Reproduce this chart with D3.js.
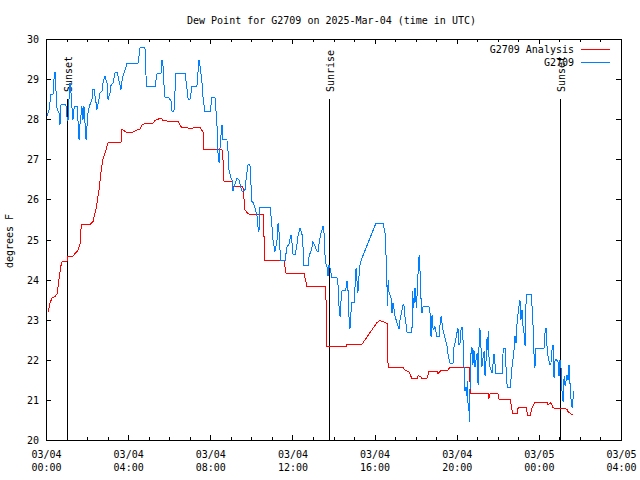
<!DOCTYPE html>
<html>
<head>
<meta charset="utf-8">
<script src="https://cdn.jsdelivr.net/npm/d3@7"></script>
<style>
  html, body { margin: 0; padding: 0; background: #fff; }
  svg { display: block; }
</style>
</head>
<body>
<div id="chart"></div>
<script>
// ---------- Data (hours after 2025-03-04 00:00 UTC, dew point in degrees F) ----------
const titleText = "Dew Point for G2709 on 2025-Mar-04 (time in UTC)";
const yAxisLabel = "degrees F";
const seriesNames = ["G2709 Analysis", "G2709"];
const seriesColors = ["#ff0000", "#0080ff"];

const analysisHours = [0.10,0.19,0.29,0.44,0.54,0.63,0.73,0.78,1.02,1.05,1.31,1.41,1.56,1.66,1.70,1.75,2.14,2.29,2.43,2.58,2.68,2.78,2.87,3.02,3.65,3.70,3.94,4.19,4.29,4.58,4.68,4.87,5.21,5.31,5.60,5.70,6.04,6.43,6.62,6.77,7.11,7.21,7.50,7.65,7.67,8.57,8.62,8.67,9.06,9.11,9.59,9.69,9.79,9.93,10.57,10.61,10.66,11.59,11.69,12.56,12.66,12.71,13.59,13.64,13.68,14.61,14.66,15.39,16.12,16.27,16.51,16.61,16.66,17.39,17.48,17.68,17.82,18.07,18.12,18.26,18.31,18.55,18.65,19.04,19.09,19.24,19.58,19.67,20.60,20.64,20.69,21.53,21.57,21.62,22.01,22.06,22.60,22.69,22.74,22.94,22.99,23.38,23.42,23.47,23.57,23.67,23.81,24.40,24.45,24.59,24.69,25.37,25.42,25.57,25.66];
const analysisValues = [23.19,23.40,23.54,23.58,23.64,24.00,24.35,24.44,24.44,24.58,24.58,24.65,24.73,24.90,25.26,25.37,25.37,25.45,25.74,26.24,26.70,27.03,27.15,27.41,27.41,27.74,27.67,27.67,27.70,27.76,27.86,27.90,27.90,27.97,28.03,27.97,27.94,27.94,27.78,27.80,27.76,27.80,27.80,27.67,27.24,27.24,26.99,26.45,26.45,26.31,26.31,25.74,25.67,25.62,25.62,25.16,24.47,24.47,24.16,24.16,23.95,23.83,23.83,23.46,22.32,22.32,22.39,22.39,22.93,22.98,22.93,22.90,21.80,21.80,21.74,21.70,21.53,21.53,21.60,21.58,21.53,21.53,21.71,21.71,21.66,21.74,21.74,21.82,21.82,21.50,21.15,21.15,21.03,21.15,21.15,21.02,21.02,20.76,20.66,20.66,20.80,20.80,20.70,20.61,20.61,20.80,20.94,20.94,20.88,20.93,20.80,20.77,20.71,20.65,20.63];

const obsHours = [0.05,0.15,0.24,0.34,0.39,0.44,0.49,0.54,0.63,0.68,0.73,0.97,1.02,1.07,1.12,1.17,1.22,1.27,1.31,1.36,1.41,1.51,1.56,1.61,1.66,1.75,1.80,1.85,1.95,2.00,2.05,2.14,2.24,2.29,2.34,2.44,2.48,2.58,2.63,2.73,2.78,2.87,2.97,3.02,3.12,3.17,3.26,3.36,3.46,3.56,3.65,3.70,3.75,3.85,3.94,4.48,4.58,4.82,4.89,5.31,5.41,5.60,5.65,5.70,5.75,5.80,5.99,6.09,6.14,6.23,6.33,6.77,6.87,6.92,7.01,7.11,7.35,7.40,7.45,7.50,7.60,7.65,7.74,7.99,8.08,8.23,8.28,8.33,8.38,8.43,8.50,8.57,8.62,8.81,8.86,8.91,9.01,9.06,9.11,9.16,9.30,9.40,9.50,9.55,9.69,9.76,9.84,9.93,9.98,10.03,10.10,10.18,10.28,10.32,10.37,10.40,10.42,10.91,10.96,11.01,11.05,11.15,11.25,11.30,11.35,11.40,11.44,11.64,11.69,11.74,11.83,11.93,11.98,12.03,12.13,12.22,12.27,12.37,12.47,12.52,12.56,12.76,12.81,12.95,13.00,13.10,13.20,13.25,13.30,13.39,13.49,13.54,13.59,13.64,13.68,13.73,13.78,13.85,13.93,14.17,14.22,14.27,14.32,14.37,14.42,14.59,14.66,14.71,14.76,14.80,14.85,14.90,15.00,15.05,15.10,15.14,15.19,15.24,15.29,15.39,16.07,16.41,16.51,16.56,16.61,16.63,16.66,16.70,16.80,16.85,16.90,16.95,17.00,17.09,17.19,17.24,17.39,17.43,17.48,17.58,17.82,17.85,17.90,17.95,17.97,18.04,18.12,18.17,18.21,18.26,18.31,18.36,18.65,18.70,18.75,18.80,18.84,18.89,18.94,19.04,19.14,19.19,19.24,19.29,19.33,19.43,19.53,19.58,19.67,19.82,19.87,19.92,20.01,20.06,20.11,20.16,20.21,20.26,20.31,20.36,20.40,20.45,20.50,20.53,20.55,20.60,20.62,20.65,20.69,20.74,20.79,20.84,20.89,20.99,21.04,21.09,21.13,21.18,21.23,21.28,21.33,21.38,21.43,21.48,21.52,21.55,21.57,21.62,21.72,21.77,21.82,21.87,21.91,22.21,22.26,22.30,22.38,22.40,22.45,22.50,22.60,22.64,22.69,22.74,22.79,22.84,22.89,22.94,23.01,23.08,23.13,23.18,23.23,23.28,23.33,23.35,23.42,23.62,23.67,23.72,23.76,23.81,23.84,24.25,24.30,24.35,24.40,24.45,24.54,24.59,24.64,24.69,24.74,24.79,24.84,24.93,24.98,25.03,25.08,25.13,25.18,25.23,25.28,25.37,25.42,25.47,25.52,25.57,25.62,25.66,25.71];
const obsValues = [28.09,28.24,28.61,28.62,29.00,29.18,28.69,28.24,28.17,27.86,28.36,28.36,28.07,27.95,28.49,28.90,28.65,28.24,27.99,28.24,28.32,28.32,27.95,27.49,27.90,28.32,27.99,28.32,27.49,27.86,28.19,28.36,28.49,28.75,28.74,28.40,28.24,28.49,28.65,28.70,28.92,29.07,28.90,28.49,28.65,28.86,28.90,29.15,29.17,28.95,28.74,28.95,29.07,29.22,29.40,29.40,29.78,29.78,28.82,28.82,29.15,29.15,29.48,29.32,28.82,28.53,28.53,28.45,28.19,28.19,29.15,29.15,28.74,28.50,28.49,28.82,28.82,29.15,29.48,29.32,28.90,28.53,28.19,28.19,28.53,28.53,28.19,27.82,27.11,26.91,27.49,27.86,27.49,27.49,27.24,26.74,26.54,26.49,26.20,26.32,26.53,26.49,26.28,26.20,26.24,26.57,26.87,26.87,26.40,25.95,25.91,25.78,25.58,25.33,25.20,25.54,25.81,25.81,25.58,25.29,25.00,24.70,24.99,25.41,25.16,24.70,24.48,24.48,24.66,24.83,24.87,25.12,24.91,24.62,24.62,24.87,25.08,25.29,25.12,24.79,24.35,24.35,24.58,24.79,24.95,24.83,24.70,24.70,24.91,25.16,25.33,25.16,24.58,24.37,24.33,24.08,24.37,24.25,24.04,24.04,23.87,23.33,23.08,23.50,23.73,23.73,23.96,23.71,23.00,22.77,23.17,23.42,23.42,23.83,24.29,24.00,23.67,24.08,24.37,24.54,25.41,25.41,25.16,24.58,23.75,23.33,24.00,23.70,23.54,23.17,23.42,23.25,23.08,22.93,22.77,23.00,23.37,23.37,23.08,22.69,22.69,23.71,23.30,23.59,23.79,23.30,24.20,24.62,24.25,23.54,23.17,23.33,23.33,23.17,22.58,23.12,22.79,22.75,22.83,22.57,22.57,22.88,23.08,22.91,22.75,22.55,22.34,22.13,21.92,21.92,22.34,22.42,22.67,22.79,22.38,22.42,22.75,22.82,22.46,21.76,21.21,21.33,21.09,21.46,20.92,20.71,20.44,21.34,22.13,22.33,21.88,22.25,21.83,22.16,21.38,22.41,22.79,22.33,21.83,22.04,22.21,21.59,22.00,22.58,22.25,22.71,22.08,21.83,21.67,21.92,22.15,21.88,21.67,21.67,22.21,22.29,22.29,21.83,21.38,21.30,21.30,21.50,21.80,22.00,22.25,22.60,22.42,22.92,23.25,23.50,23.00,23.25,22.83,22.67,22.34,23.25,23.64,23.64,23.33,22.83,22.17,21.80,22.29,22.29,22.67,22.79,22.33,22.08,21.88,21.92,22.25,22.38,21.55,22.00,22.00,21.96,21.59,22.00,21.80,21.19,20.96,21.59,21.34,21.63,21.50,21.88,21.38,20.98,20.80,21.00,21.21];

const sunEventTimes = ["2025-03-04T01:02:00Z", "2025-03-04T13:48:00Z", "2025-03-05T01:03:00Z"];
const sunEventLabels = ["Sunset", "Sunrise", "Sunset"];

const xStart = "2025-03-04T00:00:00Z";
const xEnd = "2025-03-05T04:00:00Z";
const yMin = 20, yMax = 30;

// ---------- Drawing ----------
const W = 640, H = 480;
const FONT = "'DejaVu Sans Mono', 'Liberation Mono', monospace";
const svg = d3.select("#chart").append("svg").attr("width", W).attr("height", H)
  .style("font-family", FONT);

const t0 = new Date(xStart);
const toDate = h => new Date(t0.getTime() + h * 3600e3);

const x = d3.scaleUtc().domain([t0, new Date(xEnd)]).range([46, 621]);
const y = d3.scaleLinear().domain([yMin, yMax]).range([440, 39]);

const analysis = analysisHours.map((h, i) => ({ t: toDate(h), v: analysisValues[i] }));
const obs = obsHours.map((h, i) => ({ t: toDate(h), v: obsValues[i] }));

function styleAxis(g) {
  g.select(".domain").remove();
  g.selectAll("line").attr("stroke", "#000").attr("shape-rendering", "crispEdges");
  g.attr("font-family", FONT).attr("font-size", 10);
}

// minor hour ticks (bottom / top)
svg.append("g").attr("transform", `translate(0,${y(yMin)})`)
  .call(d3.axisBottom(x).ticks(d3.utcHour.every(1)).tickSize(-3).tickFormat(""))
  .call(styleAxis);
svg.append("g").attr("transform", `translate(0,${y(yMax)})`)
  .call(d3.axisTop(x).ticks(d3.utcHour.every(1)).tickSize(-3).tickFormat(""))
  .call(styleAxis);
svg.append("g").attr("transform", `translate(0,${y(yMax)})`)
  .call(d3.axisTop(x).ticks(d3.utcHour.every(4)).tickSize(-5).tickFormat(""))
  .call(styleAxis);

// major bottom ticks with two-line labels
const fmtDay = d3.utcFormat("%m/%d"), fmtTime = d3.utcFormat("%H:%M");
const gx = svg.append("g").attr("transform", `translate(0,${y(yMin)})`)
  .call(d3.axisBottom(x).ticks(d3.utcHour.every(4)).tickSize(-5).tickFormat(fmtDay))
  .call(styleAxis);
gx.selectAll(".tick text").each(function (d) {
  const el = d3.select(this).attr("fill", "#000").attr("y", null).attr("dy", null);
  el.text(null);
  el.append("tspan").attr("x", 0).attr("y", 17.5).text(fmtDay(d));
  el.append("tspan").attr("x", 0).attr("y", 31).text(fmtTime(d));
});

// y axis left & right
const gy = svg.append("g").attr("transform", `translate(${x.range()[0]},0)`)
  .call(d3.axisLeft(y).ticks(10).tickSize(-5).tickPadding(7).tickFormat(d3.format("d")))
  .call(styleAxis);
gy.selectAll(".tick text").attr("fill", "#000").attr("dy", "0.35em");
svg.append("g").attr("transform", `translate(${x.range()[1]},0)`)
  .call(d3.axisRight(y).ticks(10).tickSize(-5).tickFormat(""))
  .call(styleAxis);

// border
svg.append("rect")
  .attr("x", x.range()[0]).attr("y", y(yMax))
  .attr("width", x.range()[1] - x.range()[0]).attr("height", y(yMin) - y(yMax))
  .attr("fill", "none").attr("stroke", "#000").attr("shape-rendering", "crispEdges");

// sun events
const sun = svg.append("g");
sunEventTimes.forEach((s, i) => {
  const sx = Math.round(x(new Date(s))) + 0.5;
  sun.append("line").attr("x1", sx).attr("x2", sx).attr("y1", 99).attr("y2", y(yMin))
    .attr("stroke", "#000").attr("shape-rendering", "crispEdges");
  sun.append("text").attr("transform", `translate(${sx + 1},92) rotate(-90)`)
    .attr("dominant-baseline", "middle").attr("text-anchor", "start")
    .attr("font-size", 10).attr("fill", "#000").text(sunEventLabels[i]);
});

// lines
const line = d3.line().x(d => x(d.t)).y(d => y(d.v));
svg.append("path").datum(analysis).attr("d", line)
  .attr("fill", "none").attr("stroke", seriesColors[0]).attr("stroke-width", 1)
  .attr("shape-rendering", "crispEdges");
svg.append("path").datum(obs).attr("d", line)
  .attr("fill", "none").attr("stroke", seriesColors[1]).attr("stroke-width", 1)
  .attr("shape-rendering", "crispEdges");

// legend
const legend = svg.append("g");
seriesNames.forEach((n, i) => {
  const ly = 49.5 + i * 13;
  legend.append("text").attr("x", 574).attr("y", ly).attr("text-anchor", "end")
    .attr("dominant-baseline", "middle").attr("font-size", 10).attr("fill", "#000").text(n);
  legend.append("line").attr("x1", 581).attr("x2", 610).attr("y1", Math.round(ly) + 0.5 - 1).attr("y2", Math.round(ly) + 0.5 - 1)
    .attr("stroke", seriesColors[i]).attr("shape-rendering", "crispEdges");
});

// title
svg.append("text").attr("x", 331.5).attr("y", 23.5).attr("text-anchor", "middle")
  .attr("font-size", 10).attr("fill", "#000").text(titleText);

// y-axis label
svg.append("text").attr("transform", `translate(10,241) rotate(-90)`)
  .attr("text-anchor", "middle").attr("dominant-baseline", "middle")
  .attr("font-size", 10).attr("fill", "#000").text(yAxisLabel);
</script>
</body>
</html>
